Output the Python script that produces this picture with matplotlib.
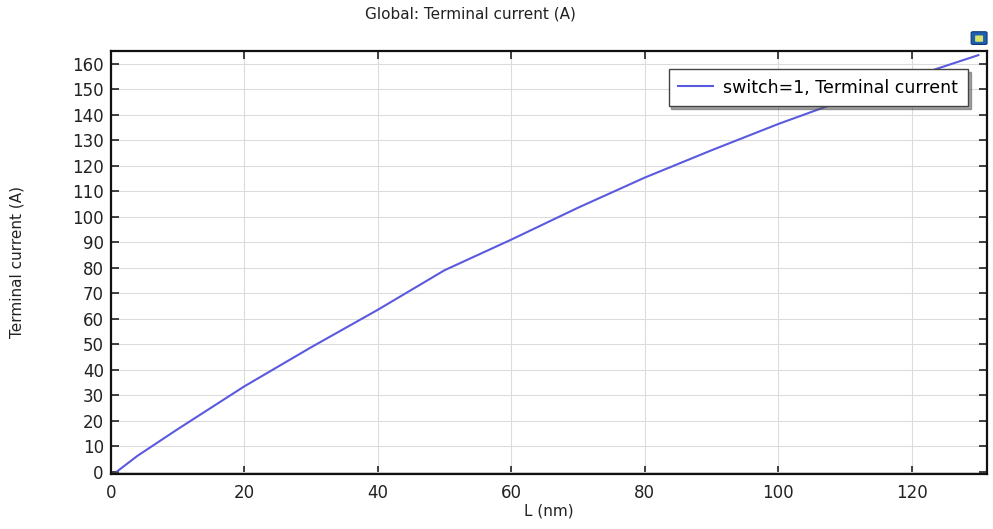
import matplotlib
matplotlib.use("Agg")
import matplotlib.pyplot as plt
from matplotlib.patches import FancyBboxPatch

# Terminal current vs. length
L_nm = [1, 4, 10, 20, 30, 40, 50, 60, 70, 80, 90, 100, 110, 120, 130]
current_A = [0.3, 6.3, 16.7, 33.5, 48.8, 63.5, 79.0, 91.0, 103.5, 115.3,
             126.0, 136.3, 145.8, 154.7, 163.3]

x_ticks = [0, 20, 40, 60, 80, 100, 120]
y_ticks = list(range(0, 161, 10))

plt.rcParams['font.family'] = ['DejaVu Sans']

fig = plt.figure(figsize=(9.93, 5.29), dpi=100)
ax = fig.add_axes([0.1115, 0.104, 0.8825, 0.800])

ax.plot(L_nm, current_A, color='#5a5ade', lw=1.5,
        label='switch=1, Terminal current')

ax.set_xlim(0, 131.3)
ax.set_ylim(-0.8, 165)
ax.set_xticks(x_ticks)
ax.set_yticks(y_ticks)
ax.grid(True, color='#dcdcdc', lw=0.8)
ax.tick_params(direction='in', length=6, width=1.2, top=True, right=True,
               labelsize=12, colors='#222222')
ax.tick_params(axis='x', pad=7)
ax.tick_params(axis='y', pad=5)
for s in ax.spines.values():
    s.set_linewidth(1.6)
    s.set_color('#111111')

ax.set_xlabel('L (nm)', fontsize=11, labelpad=1, color='#222222')
ax.set_ylabel('Terminal current (A)', fontsize=11, labelpad=34, color='#222222')

fig.text(0.474, 0.974, 'Global: Terminal current (A)', ha='center', va='center',
         fontsize=11, color='#222222')

leg = ax.legend(loc='upper right', bbox_to_anchor=(0.978, 0.957), fontsize=12.5,
                frameon=True, fancybox=False, shadow=True, borderpad=0.55,
                handlelength=2.0, handletextpad=0.6, borderaxespad=0)
leg.get_frame().set_edgecolor('#444444')
leg.get_frame().set_linewidth(1.0)

# small toolbar icon in the corner
icon = FancyBboxPatch((0.980, 0.918), 0.012, 0.02, boxstyle='round,pad=0.002',
                      transform=fig.transFigure, facecolor='#1f5fb0',
                      edgecolor='#0d3a78', lw=0.8)
fig.patches.append(icon)
icon2 = FancyBboxPatch((0.983, 0.922), 0.006, 0.01, boxstyle='round,pad=0.001',
                       transform=fig.transFigure, facecolor='#d9e36a',
                       edgecolor='none')
fig.patches.append(icon2)

fig.savefig('out.png', dpi=100)
